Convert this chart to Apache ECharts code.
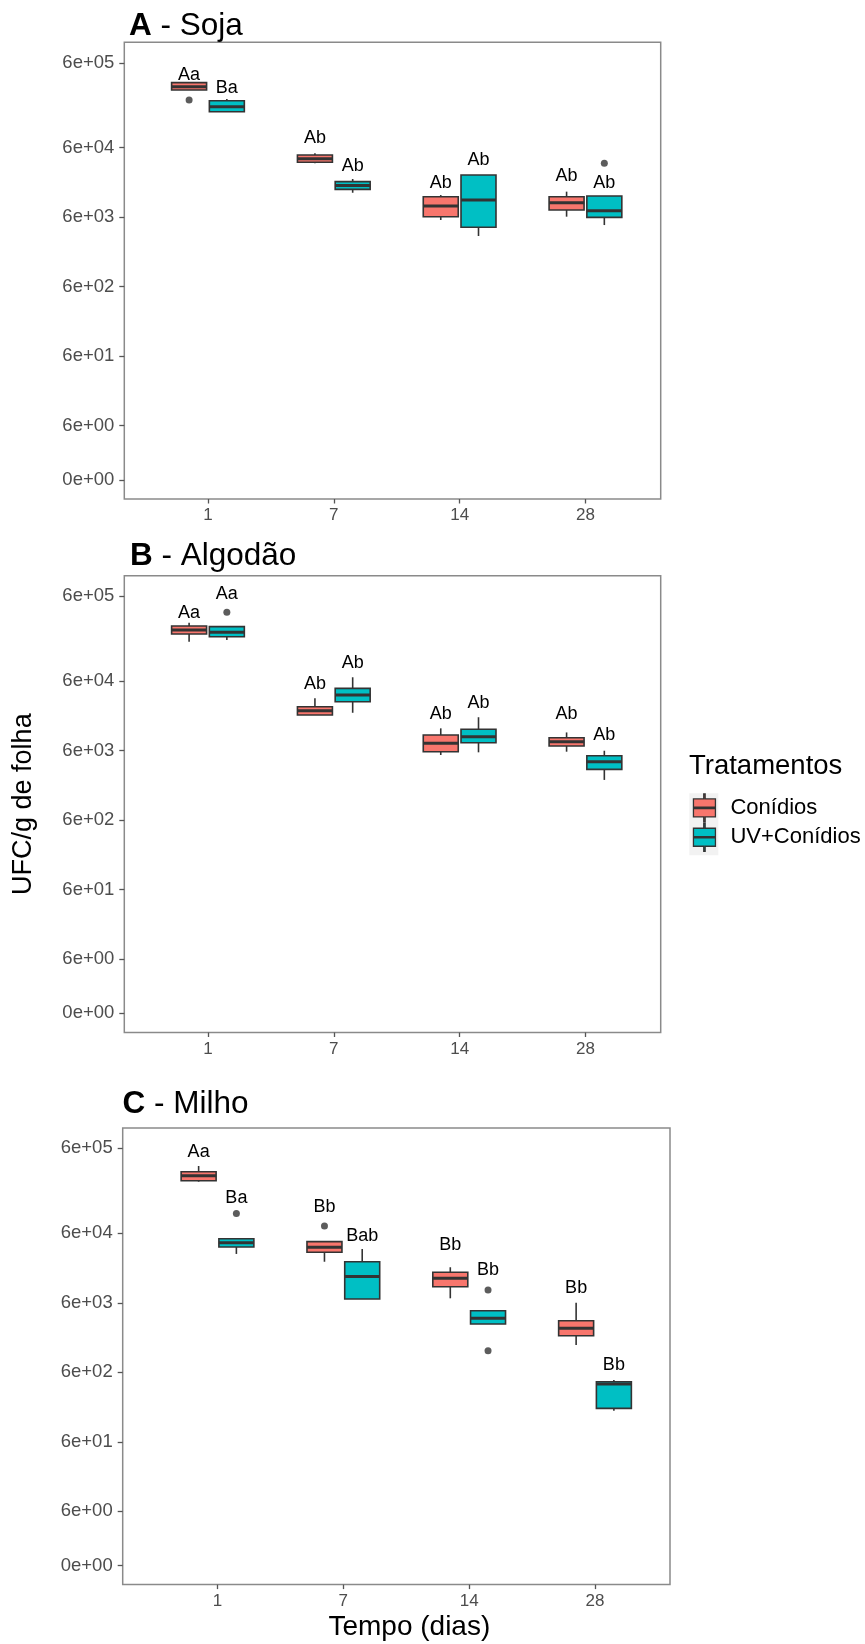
<!DOCTYPE html>
<html><head><meta charset="utf-8">
<script src="https://cdn.jsdelivr.net/npm/echarts@6/dist/echarts.min.js"></script>
<style>html,body{margin:0;padding:0;background:#fff}#c{width:865px;height:1644px}</style>
</head><body><div id="c"></div>
<script>
// ---------- data ----------
const days = ['1', '7', '14', '28'];
const treatments = ['Conídios', 'UV+Conídios'];
const yTickValues = [1, 6, 60, 600, 6000, 60000, 1000000];
const yTickLabels = ['0e+00', '6e+00', '6e+01', '6e+02', '6e+03', '6e+04', '6e+05'];
const panelLetters = ['A', 'B', 'C'];
const panelNames = ['Soja', 'Algodão', 'Milho'];

// [min, Q1, median, Q3, max] per day (UFC/g de folha)
const sojaConidios = [[406000, 406000, 453000, 518000, 525000], [35800, 37000, 41700, 47100, 49900], [5470, 6110, 8710, 11800, 12500], [6110, 7620, 9710, 11800, 14000]];
const sojaUV = [[198000, 198000, 233000, 285000, 301000], [13500, 15100, 17100, 19500, 21300], [3220, 4300, 10600, 24300, 24300], [4630, 5980, 7450, 12100, 12100]];
const sojaConidiosOut = [[0, 292000]];
const sojaUVOut = [[3, 35800]];
const sojaConidiosLetters = ['Aa', 'Ab', 'Ab', 'Ab'];
const sojaConidiosLetterY = [667000, 82000, 18500, 23500];
const sojaUVLetters = ['Ba', 'Ab', 'Ab', 'Ab'];
const sojaUVLetterY = [430000, 33000, 39900, 18800];

const algodaoConidios = [[222000, 287000, 327000, 374000, 417000], [19600, 19600, 22600, 25800, 34000], [5210, 5810, 7670, 10100, 12600], [5810, 7020, 8090, 9230, 11000]];
const algodaoUV = [[235000, 262000, 303000, 366000, 366000], [21100, 30400, 38000, 47400, 68400], [5690, 7830, 9550, 12200, 18200], [2280, 3240, 4170, 5080, 6000]];
const algodaoConidiosOut = [];
const algodaoUVOut = [[0, 589000]];
const algodaoConidiosLetters = ['Aa', 'Ab', 'Ab', 'Ab'];
const algodaoConidiosLetterY = [569000, 54200, 20200, 20200];
const algodaoUVLetters = ['Aa', 'Ab', 'Ab', 'Ab'];
const algodaoUVLetterY = [1070000, 109000, 28800, 10100];

const milhoConidios = [[332000, 343000, 405000, 462000, 558000], [23400, 32000, 37800, 45500, 45500], [6970, 10200, 13500, 16500, 19500], [1480, 2020, 2580, 3320, 6030]];
const milhoUV = [[30300, 38100, 44000, 50200, 50200], [6810, 6810, 14300, 23400, 35700], [2970, 2970, 3590, 4620, 4620], [168, 182, 407, 440, 466]];
const milhoConidiosOut = [[1, 76400]];
const milhoUVOut = [[0, 116000], [2, 9180], [2, 1230]];
const milhoConidiosLetters = ['Aa', 'Bb', 'Bb', 'Bb'];
const milhoConidiosLetterY = [897000, 142000, 40700, 9700];
const milhoUVLetters = ['Ba', 'Bab', 'Bb', 'Bb'];
const milhoUVLetterY = [191000, 55000, 17800, 764];

// ---------- layout / style ----------
const FONT = '"Liberation Sans", Arial, Helvetica, sans-serif';
const colors = ['#F8766D', '#00BFC4'];
const DODGE = [-0.15, 0.15];
const HALF = 0.139;
const Y_MIN = -0.276, Y_MAX = 6.295;
const layout = [
  { left: 124.3, top: 42.3, width: 536.4, height: 456.7, xmin: 0.335, xmax: 4.598, titleTop: 10.5, titleLeft: 129 },
  { left: 124.3, top: 575.8, width: 536.4, height: 456.7, xmin: 0.335, xmax: 4.598, titleTop: 540.5, titleLeft: 130 },
  { left: 122.7, top: 1127.9, width: 547.3, height: 456.7, xmin: 0.2466, xmax: 4.596, titleTop: 1088.5, titleLeft: 122.5 }
];
const panels = [
  { stats: [sojaConidios, sojaUV], out: [sojaConidiosOut, sojaUVOut], letters: [sojaConidiosLetters, sojaUVLetters], letterY: [sojaConidiosLetterY, sojaUVLetterY] },
  { stats: [algodaoConidios, algodaoUV], out: [algodaoConidiosOut, algodaoUVOut], letters: [algodaoConidiosLetters, algodaoUVLetters], letterY: [algodaoConidiosLetterY, algodaoUVLetterY] },
  { stats: [milhoConidios, milhoUV], out: [milhoConidiosOut, milhoUVOut], letters: [milhoConidiosLetters, milhoUVLetters], letterY: [milhoConidiosLetterY, milhoUVLetterY] }
];
const L = Math.log10;
const yTickPos = yTickValues.map(L);

const grid = [], xAxis = [], yAxis = [], series = [], title = [];
layout.forEach((g, p) => {
  grid.push({ left: g.left, top: g.top, width: g.width, height: g.height, show: true,
    borderColor: '#8a8a8a', borderWidth: 1.5, backgroundColor: '#fff', containLabel: false });
  xAxis.push({
    type: 'value', gridIndex: p, min: g.xmin, max: g.xmax, position: 'bottom',
    splitLine: { show: false }, axisLine: { show: false, onZero: false },
    axisTick: { show: true, length: 4.5, lineStyle: { color: '#555', width: 1.3 }, customValues: [1, 2, 3, 4] },
    axisLabel: { customValues: [1, 2, 3, 4], formatter: v => days[Math.round(v) - 1],
      fontSize: 17, fontFamily: FONT, color: '#4D4D4D', margin: 8 },
    name: p === 2 ? 'Tempo (dias)' : '', nameLocation: 'middle', nameGap: 29,
    nameTextStyle: { fontSize: 28, fontFamily: FONT, color: '#000', lineHeight: 28, padding: [0, 0, 0, 26] }
  });
  yAxis.push({
    type: 'value', gridIndex: p, min: Y_MIN, max: Y_MAX, position: 'left',
    splitLine: { show: false }, axisLine: { show: false, onZero: false },
    axisTick: { show: true, length: 5, lineStyle: { color: '#555', width: 1.3 }, customValues: yTickPos },
    axisLabel: { customValues: yTickPos, fontSize: 18.5, fontFamily: FONT, color: '#4D4D4D', margin: 10,
      formatter: v => { let best = 0; yTickPos.forEach((t, i) => { if (Math.abs(t - v) < Math.abs(yTickPos[best] - v)) best = i; }); return yTickLabels[best]; } },
    name: p === 1 ? 'UFC/g de folha' : '', nameLocation: 'middle', nameGap: 86,
    nameTextStyle: { fontSize: 27, fontFamily: FONT, color: '#000', lineHeight: 30 }
  });
  title.push({
    text: '{b|' + panelLetters[p] + '}{n| - ' + panelNames[p] + '}',
    left: g.titleLeft, top: g.titleTop, padding: 0,
    textStyle: { rich: {
      b: { fontSize: 31.5, fontWeight: 'bold', fontFamily: FONT, color: '#000', lineHeight: 31.5 },
      n: { fontSize: 31.5, fontWeight: 'normal', fontFamily: FONT, color: '#000', lineHeight: 31.5 } } }
  });

  const P = panels[p];
  [0, 1].forEach(t => {
    series.push({
      type: 'custom', name: treatments[t], xAxisIndex: p, yAxisIndex: p,
      itemStyle: { color: colors[t] },
      data: P.stats[t].map((s, i) => [i + 1, L(s[0]), L(s[1]), L(s[2]), L(s[3]), L(s[4])]),
      encode: { x: 0, y: [1, 2, 3, 4, 5] },
      renderItem: (params, api) => {
        const cx = api.value(0) + DODGE[t];
        const tl = api.coord([cx - HALF, api.value(4)]);
        const br = api.coord([cx + HALF, api.value(2)]);
        const md = api.coord([cx, api.value(3)]);
        const hi = api.coord([cx, api.value(5)]);
        const lo = api.coord([cx, api.value(1)]);
        const ls = { stroke: '#333', lineWidth: 1.6 };
        return { type: 'group', children: [
          { type: 'line', shape: { x1: md[0], y1: hi[1], x2: md[0], y2: tl[1] }, style: ls },
          { type: 'line', shape: { x1: md[0], y1: br[1], x2: md[0], y2: lo[1] }, style: ls },
          { type: 'rect', shape: { x: tl[0], y: tl[1], width: br[0] - tl[0], height: br[1] - tl[1] },
            style: { fill: colors[t], stroke: '#333', lineWidth: 1.6 } },
          { type: 'line', shape: { x1: tl[0], y1: md[1], x2: br[0], y2: md[1] }, style: { stroke: '#333', lineWidth: 3 } }
        ] };
      }
    });
    series.push({
      type: 'scatter', xAxisIndex: p, yAxisIndex: p, symbolSize: 7, silent: true,
      itemStyle: { color: '#333' },
      data: P.out[t].map(o => [o[0] + 1 + DODGE[t], L(o[1])])
    });
    const letters = P.letters[t];
    series.push({
      type: 'custom', xAxisIndex: p, yAxisIndex: p, silent: true,
      data: P.letterY[t].map((v, i) => [i + 1, L(v)]),
      encode: { x: 0, y: 1 },
      renderItem: (params, api) => {
        const c = api.coord([api.value(0) + DODGE[t], api.value(1)]);
        return { type: 'text', x: c[0], y: c[1], style: { text: letters[params.dataIndex],
          fontSize: 18, fontFamily: FONT, fill: '#000', align: 'center', verticalAlign: 'middle' } };
      }
    });
  });
});

title.push({ text: 'Tratamentos', left: 689, top: 753, padding: 0,
  textStyle: { fontSize: 27.5, fontWeight: 'normal', fontFamily: FONT, color: '#000', lineHeight: 27.5 } });

const keyIcon = 'path://M10.3,0 L11.7,0 L11.7,5 L22,5 L22,23 L11.7,23 L11.7,28 L10.3,28 L10.3,23 L0,23 L0,5 L10.3,5 Z M0,13.3 L22,13.3 L22,14.7 L0,14.7 Z';

const chart = echarts.init(document.getElementById('c'), null, { renderer: 'canvas' });
chart.setOption({
  animation: false,
  backgroundColor: '#fff',
  title, grid, xAxis, yAxis, series,
  legend: {
    orient: 'vertical', left: 692.8, top: 793.3, itemWidth: 22, itemHeight: 31, itemGap: 0,
    selectedMode: false, padding: 0, symbolKeepAspect: true,
    textStyle: { fontSize: 22, fontFamily: FONT, color: '#000', padding: [0, 0, 0, 10] },
    data: treatments.map((n, i) => ({ name: n, icon: keyIcon,
      itemStyle: { color: colors[i], borderColor: '#333', borderWidth: 1.3 } }))
  },
  graphic: [
    { type: 'rect', left: 689.3, top: 793.3, shape: { width: 29, height: 62 }, style: { fill: '#F2F2F2' }, z: 1 }
  ]
});
</script></body></html>
